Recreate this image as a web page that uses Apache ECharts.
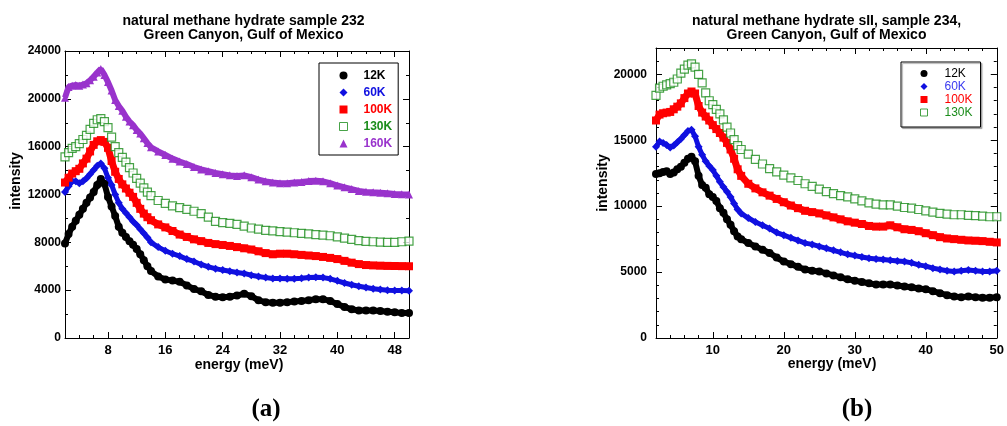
<!DOCTYPE html>
<html>
<head>
<meta charset="utf-8">
<script src="https://cdn.jsdelivr.net/npm/echarts@6/dist/echarts.min.js"></script>
<style>html,body{margin:0;padding:0;background:#fff;}#c{width:1007px;height:426px;}</style>
</head>
<body>
<div id="c"></div>
<script>
// ---- data ----
const energy = [2,2.5,3,3.5,4,4.5,5,5.5,6,6.5,7,7.5,8,8.5,9,9.5,10,10.5,11,11.5,12,12.5,13,13.5,14,15,16,17,18,19,20,21,22,23,24,25,26,27,28,29,30,31,32,33,34,35,36,37,38,39,40,41,42,43,44,45,46,47,48,49,50];

// panel (a): sample 232
const a12K  = [7900,8700,9300,9800,10300,10800,11300,11750,12200,12800,13300,12900,11800,11000,10200,9300,8800,8450,8100,7800,7450,7000,6500,6000,5600,5150,4900,4800,4700,4400,4100,3900,3600,3450,3400,3450,3550,3700,3500,3150,3000,2950,2950,3000,3050,3100,3150,3250,3250,3100,2850,2600,2400,2300,2300,2300,2250,2200,2150,2100,2100];
const a60K  = [12200,12700,13100,13100,12950,13100,13350,13700,14050,14400,14600,14200,13400,12800,12000,11300,10800,10450,10100,9750,9450,9100,8750,8400,8000,7600,7300,7050,6850,6600,6400,6150,5950,5800,5680,5580,5480,5400,5250,5150,5050,4980,4970,4960,4960,5000,5050,5080,5050,4950,4780,4600,4450,4330,4220,4120,4050,4000,3980,3970,3960];
const a100K = [13000,13400,13750,13950,14150,14600,15000,15600,16150,16450,16550,16400,15900,14800,13900,13300,12850,12500,12150,11800,11300,10800,10400,10100,9850,9500,9250,8950,8650,8450,8250,8100,7950,7850,7780,7700,7600,7500,7400,7250,7100,7000,7050,7050,7000,6950,6900,6850,6780,6700,6600,6450,6300,6180,6100,6070,6050,6030,6020,6010,6000];
const a130K = [15150,15500,15850,16000,16250,16600,16950,17450,17950,18250,18350,18100,17600,16800,16000,15500,15100,14700,14250,13800,13350,12950,12550,12200,11900,11500,11250,11050,10900,10750,10600,10400,10100,9750,9650,9580,9500,9350,9200,9100,9000,8950,8900,8850,8800,8750,8700,8650,8600,8550,8450,8350,8250,8150,8080,8050,8020,8000,8000,8050,8100];
const a160K = [20100,21000,21100,21150,21100,21200,21300,21550,21850,22200,22500,22000,21400,20700,19900,19400,19000,18500,18100,17800,17400,17100,16700,16300,15950,15600,15300,15000,14750,14550,14300,14100,13950,13800,13700,13600,13550,13600,13450,13250,13100,13000,12950,12950,13000,13050,13120,13150,13100,12950,12750,12600,12450,12300,12220,12180,12150,12100,12050,12020,12000];

// panel (b): sample 234
const b12K  = [12450,12500,12600,12650,12450,12550,12800,13000,13300,13600,13750,13400,12300,11600,11400,10900,10700,10400,9850,9500,9000,8600,8100,7700,7500,7200,6950,6700,6450,6100,5800,5600,5400,5200,5100,5050,4900,4750,4600,4450,4350,4250,4150,4050,4050,4050,3980,3900,3850,3750,3700,3550,3400,3250,3150,3100,3150,3100,3050,3050,3100];
const b60K  = [14500,14900,14800,14650,14450,14600,14850,15100,15400,15700,15800,15300,14500,13900,13400,13050,12750,12300,11850,11450,11100,10700,10200,9750,9450,9100,8800,8550,8300,8000,7800,7600,7400,7200,7100,6950,6800,6650,6500,6350,6250,6150,6050,6000,5950,5900,5850,5800,5700,5550,5450,5300,5200,5100,5050,5100,5150,5100,5050,5050,5100];
const b100K = [16500,16950,17050,17100,17150,17350,17550,17800,18200,18550,18700,18550,17600,17100,16800,16500,16150,15850,15550,15200,14800,14300,13600,12800,12300,11700,11350,11050,10800,10550,10300,10050,9850,9650,9550,9450,9300,9150,9000,8850,8750,8650,8500,8450,8450,8550,8400,8250,8200,8100,7950,7800,7650,7550,7500,7450,7400,7380,7350,7300,7250];
const b130K = [18400,18950,19100,19200,19300,19400,19650,20100,20400,20700,20800,20550,20000,19350,18600,18000,17700,17350,17000,16550,16000,15550,15050,14600,14300,13950,13550,13200,12850,12600,12350,12150,11950,11700,11500,11300,11100,10950,10800,10700,10550,10400,10250,10150,10100,10100,10000,9900,9850,9750,9650,9550,9450,9400,9350,9350,9300,9280,9250,9200,9200];

// tick labels
const aXTicks = [8,16,24,32,40,48];
const aYTicks = [0,4000,8000,12000,16000,20000,24000];
const bXTicks = [10,20,30,40,50];
const bYTicks = [0,5000,10000,15000,20000];

const names = ['12K','60K','100K','130K','160K'];
const colors = {'12K':'#000000','60K':'#1010e0','100K':'#ff0000','130K':'#1a8c1a','160K':'#9933cc'};
const FONT = '"Liberation Sans", Arial, sans-serif';

const chart = echarts.init(document.getElementById('c'), null, {renderer:'canvas'});

function pairs(vals){ return energy.map((e,i)=>[e, vals[i]]); }
const plain = v => String(v);

function xAxes(g, minorInt, majors, lblSize){
  const base = {type:'value', gridIndex:g, min:2, max:50, splitLine:{show:false}};
  const line = {show:true, onZero:false, lineStyle:{color:'#000', width:1}};
  return [
    Object.assign({}, base, {position:'bottom', interval:minorInt, axisLine:line,
      axisTick:{show:true, inside:true, length:3, lineStyle:{color:'#000'}}, axisLabel:{show:false}}),
    Object.assign({}, base, {position:'bottom', axisLine:{show:false, onZero:false},
      axisTick:{show:true, inside:true, length:6, customValues:majors, lineStyle:{color:'#000'}},
      axisLabel:{show:true, customValues:majors, formatter:plain, margin:6, color:'#000', fontFamily:FONT, fontWeight:'bold', fontSize:lblSize}}),
    Object.assign({}, base, {position:'top', interval:minorInt, axisLine:line,
      axisTick:{show:true, inside:true, length:3, lineStyle:{color:'#000'}}, axisLabel:{show:false}}),
    Object.assign({}, base, {position:'top', axisLine:{show:false, onZero:false},
      axisTick:{show:true, inside:true, length:6, customValues:majors, lineStyle:{color:'#000'}}, axisLabel:{show:false}})
  ];
}
function yAxes(g, max, minorInt, majors, lblSize, margin){
  const base = {type:'value', gridIndex:g, min:0, max:max, splitLine:{show:false}};
  const line = {show:true, onZero:false, lineStyle:{color:'#000', width:1}};
  return [
    Object.assign({}, base, {position:'left', interval:minorInt, axisLine:line,
      axisTick:{show:true, inside:true, length:3, lineStyle:{color:'#000'}}, axisLabel:{show:false}}),
    Object.assign({}, base, {position:'left', axisLine:{show:false, onZero:false},
      axisTick:{show:true, inside:true, length:6, customValues:majors, lineStyle:{color:'#000'}},
      axisLabel:{show:true, customValues:majors, formatter:plain, margin:margin, color:'#000', fontFamily:FONT, fontWeight:'bold', fontSize:lblSize}}),
    Object.assign({}, base, {position:'right', interval:minorInt, axisLine:line,
      axisTick:{show:true, inside:true, length:3, lineStyle:{color:'#000'}}, axisLabel:{show:false}}),
    Object.assign({}, base, {position:'right', axisLine:{show:false, onZero:false},
      axisTick:{show:true, inside:true, length:6, customValues:majors, lineStyle:{color:'#000'}}, axisLabel:{show:false}})
  ];
}

const symbolOf = {'12K':'circle','60K':'diamond','100K':'rect','130K':'rect','160K':'triangle'};
const sizeOf = {'12K':8,'60K':8,'100K':8,'130K':8,'160K':8};

function makeSeries(name, vals, g, lw){
  const xi = g*4, yi = g*4;
  const c = colors[name];
  if (name === '130K') {
    return {name, type:'scatter', xAxisIndex:xi, yAxisIndex:yi, data:pairs(vals), symbol:'rect', symbolSize:8,
      itemStyle:{color:'#ffffff', borderColor:c, borderWidth:1.2}, silent:true, z:3};
  }
  return {name, type:'line', xAxisIndex:xi, yAxisIndex:yi, data:pairs(vals), symbol:symbolOf[name], symbolSize:sizeOf[name],
    showSymbol:true, showAllSymbol:true, lineStyle:{color:c, width:lw}, itemStyle:{color:c, borderWidth:0}, silent:true, z:2};
}

function legendData(list, bold){
  return list.map(n => {
    const item = {name:n, icon:symbolOf[n], textStyle:{color: n==='60K' && !bold ? '#3a3af0' : colors[n]}};
    if (n === '130K') item.itemStyle = {color:'#ffffff', borderColor:colors[n], borderWidth:1};
    else item.itemStyle = {color:colors[n], borderWidth:0};
    return item;
  });
}

const option = {
  animation:false,
  backgroundColor:'#ffffff',
  grid:[
    {left:65, top:51, width:344, height:287, containLabel:false},
    {left:656, top:48, width:342, height:290, containLabel:false}
  ],
  xAxis: xAxes(0, 2, aXTicks, 13).concat(xAxes(1, 2, bXTicks, 13)),
  yAxis: yAxes(0, 24000, 2000, aYTicks, 12, 4).concat(yAxes(1, 22000, 1000, bYTicks, 12, 9)),
  legend:[
    {orient:'vertical', left:319, top:63, padding:[4,6,3,20], itemWidth:8, itemHeight:8, itemGap:0,
      borderColor:'#000', borderWidth:1, backgroundColor:'#fff', selectedMode:false,
      textStyle:{fontFamily:FONT, fontWeight:'bold', fontSize:12, lineHeight:17, padding:[0,0,0,11]},
      data: legendData(names, true)},
    {orient:'vertical', left:901, top:62, padding:[5,8,8,19], itemWidth:7, itemHeight:7, itemGap:0,
      borderColor:'#000', borderWidth:1, backgroundColor:'#fff', selectedMode:false,
      shadowColor:'rgba(0,0,0,0.3)', shadowBlur:1, shadowOffsetX:1.5, shadowOffsetY:1.5,
      textStyle:{fontFamily:FONT, fontSize:12, lineHeight:13, padding:[0,0,0,12]},
      data: legendData(names.slice(0,4), false)}
  ],
  graphic:[
    {type:'text', x:243.5, y:21, style:{text:'natural methane hydrate sample 232', font:'bold 14px '+FONT, fill:'#000', align:'center', verticalAlign:'middle'}},
    {type:'text', x:243.5, y:35, style:{text:'Green Canyon, Gulf of Mexico', font:'bold 14px '+FONT, fill:'#000', align:'center', verticalAlign:'middle'}},
    {type:'text', x:826.5, y:21, style:{text:'natural methane hydrate sII, sample 234,', font:'bold 14px '+FONT, fill:'#000', align:'center', verticalAlign:'middle'}},
    {type:'text', x:826.5, y:35, style:{text:'Green Canyon, Gulf of Mexico', font:'bold 14px '+FONT, fill:'#000', align:'center', verticalAlign:'middle'}},
    {type:'text', x:239, y:365, style:{text:'energy (meV)', font:'bold 14px '+FONT, fill:'#000', align:'center', verticalAlign:'middle'}},
    {type:'text', x:832, y:364, style:{text:'energy (meV)', font:'bold 14px '+FONT, fill:'#000', align:'center', verticalAlign:'middle'}},
    {type:'text', x:16, y:181, rotation:Math.PI/2, style:{text:'intensity', font:'bold 14px '+FONT, fill:'#000', align:'center', verticalAlign:'middle'}},
    {type:'text', x:603, y:183, rotation:Math.PI/2, style:{text:'intensity', font:'bold 14px '+FONT, fill:'#000', align:'center', verticalAlign:'middle'}},
    {type:'text', x:266, y:410, style:{text:'(a)', font:'bold 25px "Liberation Serif", "Times New Roman", serif', fill:'#000', align:'center', verticalAlign:'middle'}},
    {type:'text', x:857, y:410, style:{text:'(b)', font:'bold 25px "Liberation Serif", "Times New Roman", serif', fill:'#000', align:'center', verticalAlign:'middle'}}
  ],
  series:[
    makeSeries('12K', a12K, 0, 6),
    makeSeries('60K', a60K, 0, 5),
    makeSeries('100K', a100K, 0, 7),
    makeSeries('130K', a130K, 0, 0),
    makeSeries('160K', a160K, 0, 6),
    makeSeries('12K', b12K, 1, 6),
    makeSeries('60K', b60K, 1, 5),
    makeSeries('100K', b100K, 1, 7),
    makeSeries('130K', b130K, 1, 0)
  ]
};
chart.setOption(option);
</script>
</body>
</html>
